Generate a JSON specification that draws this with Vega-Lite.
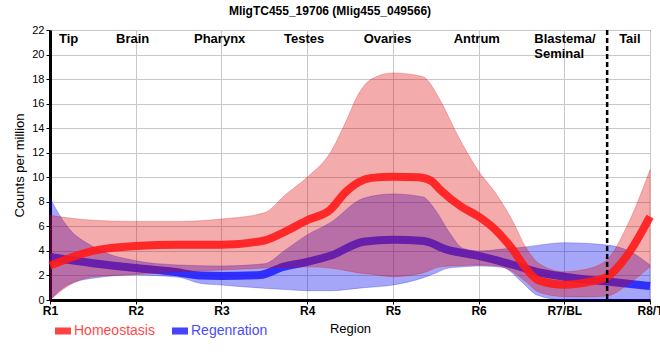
{
  "$schema": "https://vega.github.io/schema/vega-lite/v6.json",
  "width": 600,
  "height": 270,
  "autosize": {"type": "none"},
  "padding": {"left": 50, "top": 30, "right": 10, "bottom": 60},
  "config": {
    "font": "Liberation Sans",
    "view": {"stroke": "black", "strokeWidth": 1},
    "axis": {"gridColor": "#c8c8c8", "gridWidth": 1, "domainColor": "black", "domainWidth": 3, "tickColor": "black", "labelColor": "black", "titleColor": "black", "titleFontWeight": "normal"}
  },
  "title": {"text": "MligTC455_19706 (Mlig455_049566)", "fontSize": 12, "fontWeight": "bold", "anchor": "middle", "dx": -20, "offset": 6, "color": "black"},
  "datasets": {
    "bands": [
      {"series": "Homeostasis", "x": 1, "lo": 0, "hi": 6.9},
      {"series": "Homeostasis", "x": 1.2, "lo": 1.1, "hi": 6.7},
      {"series": "Homeostasis", "x": 1.5, "lo": 1.9, "hi": 6.5},
      {"series": "Homeostasis", "x": 2, "lo": 2.1, "hi": 6.4},
      {"series": "Homeostasis", "x": 2.5, "lo": 2.3, "hi": 6.4},
      {"series": "Homeostasis", "x": 3, "lo": 2.45, "hi": 6.6},
      {"series": "Homeostasis", "x": 3.5, "lo": 2.6, "hi": 7.1},
      {"series": "Homeostasis", "x": 3.75, "lo": 2.65, "hi": 8.6},
      {"series": "Homeostasis", "x": 4, "lo": 2.7, "hi": 10.0},
      {"series": "Homeostasis", "x": 4.27, "lo": 2.6, "hi": 12.0},
      {"series": "Homeostasis", "x": 4.45, "lo": 2.4, "hi": 14.5},
      {"series": "Homeostasis", "x": 4.6, "lo": 2.2, "hi": 16.8},
      {"series": "Homeostasis", "x": 4.75, "lo": 2.1, "hi": 18.0},
      {"series": "Homeostasis", "x": 5, "lo": 1.9, "hi": 18.5},
      {"series": "Homeostasis", "x": 5.35, "lo": 2.2, "hi": 18.2},
      {"series": "Homeostasis", "x": 5.55, "lo": 2.7, "hi": 16.3},
      {"series": "Homeostasis", "x": 5.75, "lo": 2.8, "hi": 13.5},
      {"series": "Homeostasis", "x": 6, "lo": 2.85, "hi": 10.5},
      {"series": "Homeostasis", "x": 6.2, "lo": 2.8, "hi": 8.7},
      {"series": "Homeostasis", "x": 6.4, "lo": 2.3, "hi": 6.4},
      {"series": "Homeostasis", "x": 6.55, "lo": 1.5, "hi": 4.3},
      {"series": "Homeostasis", "x": 6.7, "lo": 0.65, "hi": 3.0},
      {"series": "Homeostasis", "x": 7, "lo": 0.27, "hi": 2.3},
      {"series": "Homeostasis", "x": 7.25, "lo": 0.25, "hi": 2.5},
      {"series": "Homeostasis", "x": 7.5, "lo": 0.33, "hi": 3.3},
      {"series": "Homeostasis", "x": 7.75, "lo": 1.3, "hi": 6.3},
      {"series": "Homeostasis", "x": 8, "lo": 2.7, "hi": 10.6},
      {"series": "Regenration", "x": 1, "lo": 0, "hi": 8.3},
      {"series": "Regenration", "x": 1.2, "lo": 1.2, "hi": 6.0},
      {"series": "Regenration", "x": 1.5, "lo": 1.77, "hi": 4.35},
      {"series": "Regenration", "x": 2, "lo": 2.04, "hi": 3.2},
      {"series": "Regenration", "x": 2.5, "lo": 1.85, "hi": 2.85},
      {"series": "Regenration", "x": 2.75, "lo": 1.36, "hi": 2.8},
      {"series": "Regenration", "x": 3, "lo": 1.22, "hi": 2.77},
      {"series": "Regenration", "x": 3.5, "lo": 0.95, "hi": 2.95},
      {"series": "Regenration", "x": 3.75, "lo": 0.85, "hi": 4.1},
      {"series": "Regenration", "x": 4, "lo": 0.76, "hi": 5.3},
      {"series": "Regenration", "x": 4.27, "lo": 0.76, "hi": 6.3},
      {"series": "Regenration", "x": 4.66, "lo": 1.0, "hi": 8.3},
      {"series": "Regenration", "x": 5, "lo": 1.22, "hi": 8.64},
      {"series": "Regenration", "x": 5.35, "lo": 1.8, "hi": 8.4},
      {"series": "Regenration", "x": 5.5, "lo": 2.2, "hi": 7.3},
      {"series": "Regenration", "x": 5.65, "lo": 2.6, "hi": 5.6},
      {"series": "Regenration", "x": 5.82, "lo": 2.7, "hi": 4.2},
      {"series": "Regenration", "x": 6, "lo": 2.77, "hi": 4.0},
      {"series": "Regenration", "x": 6.28, "lo": 2.66, "hi": 4.15},
      {"series": "Regenration", "x": 6.52, "lo": 1.36, "hi": 4.3},
      {"series": "Regenration", "x": 6.68, "lo": 0.4, "hi": 4.45},
      {"series": "Regenration", "x": 7, "lo": 0, "hi": 4.67},
      {"series": "Regenration", "x": 7.5, "lo": 0, "hi": 4.48},
      {"series": "Regenration", "x": 7.77, "lo": 0, "hi": 3.94},
      {"series": "Regenration", "x": 8, "lo": 0, "hi": 2.85}
    ],
    "lines": [
      {"series": "Homeostasis", "x": 1, "y": 2.8},
      {"series": "Homeostasis", "x": 1.5, "y": 4.0},
      {"series": "Homeostasis", "x": 2, "y": 4.4},
      {"series": "Homeostasis", "x": 2.5, "y": 4.5},
      {"series": "Homeostasis", "x": 3, "y": 4.5},
      {"series": "Homeostasis", "x": 3.5, "y": 4.85},
      {"series": "Homeostasis", "x": 3.75, "y": 5.6},
      {"series": "Homeostasis", "x": 4, "y": 6.5},
      {"series": "Homeostasis", "x": 4.27, "y": 7.35},
      {"series": "Homeostasis", "x": 4.45, "y": 8.8},
      {"series": "Homeostasis", "x": 4.6, "y": 9.6},
      {"series": "Homeostasis", "x": 4.75, "y": 9.95},
      {"series": "Homeostasis", "x": 5, "y": 10.05},
      {"series": "Homeostasis", "x": 5.3, "y": 10.0},
      {"series": "Homeostasis", "x": 5.45, "y": 9.7},
      {"series": "Homeostasis", "x": 5.55, "y": 9.0},
      {"series": "Homeostasis", "x": 5.8, "y": 7.6},
      {"series": "Homeostasis", "x": 6, "y": 6.8},
      {"series": "Homeostasis", "x": 6.2, "y": 5.7},
      {"series": "Homeostasis", "x": 6.4, "y": 4.1},
      {"series": "Homeostasis", "x": 6.55, "y": 2.6},
      {"series": "Homeostasis", "x": 6.7, "y": 1.6},
      {"series": "Homeostasis", "x": 7, "y": 1.25},
      {"series": "Homeostasis", "x": 7.3, "y": 1.5},
      {"series": "Homeostasis", "x": 7.5, "y": 1.9},
      {"series": "Homeostasis", "x": 7.75, "y": 3.8},
      {"series": "Homeostasis", "x": 8, "y": 6.8},
      {"series": "Regenration", "x": 1, "y": 3.5},
      {"series": "Regenration", "x": 1.5, "y": 3.0},
      {"series": "Regenration", "x": 2, "y": 2.6},
      {"series": "Regenration", "x": 2.44, "y": 2.3},
      {"series": "Regenration", "x": 2.75, "y": 2.0},
      {"series": "Regenration", "x": 3, "y": 1.96},
      {"series": "Regenration", "x": 3.45, "y": 2.04},
      {"series": "Regenration", "x": 3.72, "y": 2.7},
      {"series": "Regenration", "x": 4, "y": 3.1},
      {"series": "Regenration", "x": 4.27, "y": 3.6},
      {"series": "Regenration", "x": 4.66, "y": 4.75},
      {"series": "Regenration", "x": 5, "y": 4.9},
      {"series": "Regenration", "x": 5.36, "y": 4.8},
      {"series": "Regenration", "x": 5.63, "y": 4.1},
      {"series": "Regenration", "x": 6, "y": 3.6},
      {"series": "Regenration", "x": 6.41, "y": 2.85},
      {"series": "Regenration", "x": 6.68, "y": 2.3},
      {"series": "Regenration", "x": 7, "y": 1.9},
      {"series": "Regenration", "x": 7.5, "y": 1.5},
      {"series": "Regenration", "x": 8, "y": 1.14}
    ],
    "regions": [
      {"label": "Tip", "x": 1.105},
      {"label": "Brain", "x": 1.77},
      {"label": "Pharynx", "x": 2.68},
      {"label": "Testes", "x": 3.73},
      {"label": "Ovaries", "x": 4.66},
      {"label": "Antrum", "x": 5.71},
      {"label": "Blastema/\nSeminal", "x": 6.65},
      {"label": "Tail", "x": 7.64}
    ],
    "divider": [{"x": 7.5}]
  },
  "encoding": {
    "x": {"field": "x", "type": "quantitative", "scale": {"domain": [1, 8], "nice": false, "zero": false},
      "axis": {"values": [1, 2, 3, 4, 5, 6, 7, 8], "labelExpr": "['R1','R2','R3','R4','R5','R6','R7/BL','R8/T'][datum.value - 1]", "title": "Region", "titleFontSize": 13, "titlePadding": 6, "labelFontSize": 12, "labelFontWeight": "bold", "labelFont": "Liberation Sans", "tickSize": 4, "labelPadding": 1, "labelFlush": false, "labelOverlap": false}}
  },
  "layer": [
    {
      "data": {"name": "bands"},
      "transform": [{"filter": "datum.series === 'Regenration'"}],
      "mark": {"type": "area", "interpolate": "monotone", "fill": "#0000ee", "fillOpacity": 0.35, "stroke": "#0000ee", "strokeOpacity": 0.25, "strokeWidth": 1},
      "encoding": {
        "y": {"field": "hi", "type": "quantitative", "scale": {"domain": [0, 22], "nice": false}, "axis": {"values": [0, 2, 4, 6, 8, 10, 12, 14, 16, 18, 20, 22], "labelOverlap": false, "title": "Counts per million", "titleFontSize": 13, "labelFontSize": 11, "tickSize": 4, "labelPadding": 2, "titlePadding": 5}},
        "y2": {"field": "lo"}
      }
    },
    {
      "data": {"name": "lines"},
      "transform": [{"filter": "datum.series === 'Regenration'"}],
      "mark": {"type": "line", "interpolate": "monotone", "strokeWidth": 8, "opacity": 0.85, "strokeCap": "butt"},
      "encoding": {
        "y": {"field": "y", "type": "quantitative", "axis": {"values": [0, 2, 4, 6, 8, 10, 12, 14, 16, 18, 20, 22], "labelOverlap": false, "title": "Counts per million", "titleFontSize": 13, "labelFontSize": 11, "tickSize": 4, "labelPadding": 2, "titlePadding": 5}},
        "color": {"field": "series", "type": "nominal", "scale": {"domain": ["Homeostasis", "Regenration"], "range": ["#ff1a1a", "#1a1aff"]},
          "legend": {"orient": "none", "legendX": 5, "legendY": 293, "direction": "horizontal", "title": null, "padding": 0, "columnPadding": 17, "labelOffset": 3, "labelFontSize": 14,
            "labelColor": {"expr": "datum.label === 'Homeostasis' ? '#ff4a4a' : '#4a4aff'"},
            "symbolType": "M-1,-0.44H1V0.44H-1Z", "symbolSize": 256, "symbolStrokeWidth": 0, "symbolOpacity": 1,
            "symbolFillColor": {"expr": "datum.label === 'Homeostasis' ? '#ff3030' : '#3030ff'"}}}
      }
    },
    {
      "data": {"name": "bands"},
      "transform": [{"filter": "datum.series === 'Homeostasis'"}],
      "mark": {"type": "area", "interpolate": "monotone", "fill": "#dd0000", "fillOpacity": 0.33, "stroke": "#dd0000", "strokeOpacity": 0.25, "strokeWidth": 1},
      "encoding": {
        "y": {"field": "hi", "type": "quantitative", "axis": {"values": [0, 2, 4, 6, 8, 10, 12, 14, 16, 18, 20, 22], "labelOverlap": false, "title": "Counts per million", "titleFontSize": 13, "labelFontSize": 11, "tickSize": 4, "labelPadding": 2, "titlePadding": 5}},
        "y2": {"field": "lo"}
      }
    },
    {
      "data": {"name": "lines"},
      "transform": [{"filter": "datum.series === 'Homeostasis'"}],
      "mark": {"type": "line", "interpolate": "monotone", "strokeWidth": 8, "opacity": 0.9, "strokeCap": "butt"},
      "encoding": {
        "y": {"field": "y", "type": "quantitative", "axis": {"values": [0, 2, 4, 6, 8, 10, 12, 14, 16, 18, 20, 22], "labelOverlap": false, "title": "Counts per million", "titleFontSize": 13, "labelFontSize": 11, "tickSize": 4, "labelPadding": 2, "titlePadding": 5}},
        "color": {"field": "series", "type": "nominal"}
      }
    },
    {
      "data": {"name": "divider"},
      "mark": {"type": "rule", "color": "black", "strokeWidth": 2.5, "strokeDash": [5, 3]},
      "encoding": {}
    },
    {
      "data": {"name": "regions"},
      "mark": {"type": "text", "align": "left", "baseline": "top", "fontSize": 13, "fontWeight": "bold", "lineBreak": "\n", "color": "black", "dy": 3},
      "encoding": {
        "text": {"field": "label"},
        "y": {"datum": 22, "axis": {"values": [0, 2, 4, 6, 8, 10, 12, 14, 16, 18, 20, 22], "labelOverlap": false, "title": "Counts per million", "titleFontSize": 13, "labelFontSize": 11, "tickSize": 4, "labelPadding": 2, "titlePadding": 5}}
      }
    }
  ]
}
